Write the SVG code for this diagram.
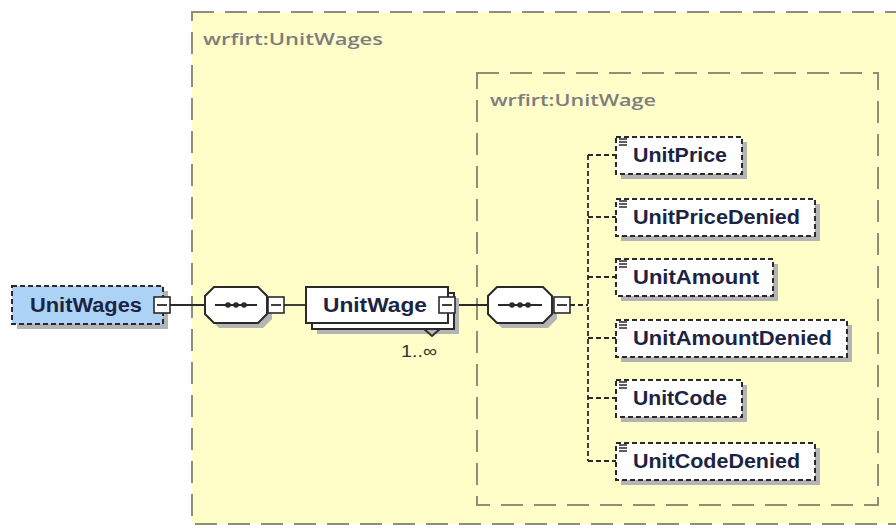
<svg xmlns="http://www.w3.org/2000/svg" width="896" height="528" viewBox="0 0 896 528">
<defs>
<style>
.frame{fill:#fffdc8;stroke:#8f8f78;stroke-width:2;stroke-dasharray:22,11}
.ftxt{font-family:"Open Sans","Liberation Sans",sans-serif;font-weight:600;font-size:17px;fill:#7d7d7d}
.shadow{fill:#b4b4b4}
.el{fill:#ffffff;stroke:#2a2a2a;stroke-width:2;stroke-dasharray:5,3}
.elroot{fill:#acd3f6;stroke:#2a2a2a;stroke-width:2;stroke-dasharray:5,3}
.solid{fill:#ffffff;stroke:#2a2a2a;stroke-width:2}
.lbl{font-family:"Liberation Sans",Arial,sans-serif;font-weight:bold;font-size:20px;fill:#1c2444}
.mb{fill:#ffffff;stroke:#2a2a2a;stroke-width:1.6}
.line{stroke:#2a2a2a;stroke-width:1.8;fill:none}
.dline{stroke:#2a2a2a;stroke-width:1.8;fill:none;stroke-dasharray:5,3}
.ico{stroke:#2a2a2a;stroke-width:1.3}
.card{font-family:"Liberation Sans",Arial,sans-serif;font-size:17px;fill:#333333}
</style>
</defs>
<rect width="896" height="528" fill="#ffffff"/>
<g id="frame-UnitWages">
<rect class="frame" x="192" y="12" width="730" height="512"/>
<text class="ftxt" x="203" y="45" textLength="180" lengthAdjust="spacingAndGlyphs">wrfirt:UnitWages</text>
</g>
<g id="frame-UnitWage">
<rect class="frame" x="477" y="73" width="401" height="432"/>
<text class="ftxt" x="490" y="106" textLength="166" lengthAdjust="spacingAndGlyphs">wrfirt:UnitWage</text>
</g>
<g id="connectors">
<line class="line" x1="170" y1="305" x2="205" y2="305"/>
<line class="line" x1="284" y1="305" x2="306" y2="305"/>
<line class="line" x1="455" y1="305" x2="488" y2="305"/>
<line class="dline" x1="570" y1="305" x2="588" y2="305"/>
<line class="dline" x1="588" y1="155" x2="588" y2="461"/>
<line class="dline" x1="588" y1="155" x2="616" y2="155"/>
<line class="dline" x1="588" y1="217" x2="616" y2="217"/>
<line class="dline" x1="588" y1="277" x2="616" y2="277"/>
<line class="dline" x1="588" y1="338" x2="616" y2="338"/>
<line class="dline" x1="588" y1="398" x2="616" y2="398"/>
<line class="dline" x1="588" y1="461" x2="616" y2="461"/>
</g>
<g id="UnitWages">
<rect class="shadow" x="17" y="291" width="151" height="38"/>
<rect class="elroot" x="12" y="286" width="151" height="38"/>
<text class="lbl" x="30" y="312" textLength="112" lengthAdjust="spacingAndGlyphs">UnitWages</text>
<rect class="mb" x="154" y="297" width="16" height="16"/>
<line class="line" x1="157" y1="305" x2="167" y2="305"/>
</g>
<g id="seq1">
<polygon class="shadow" points="219,292 263,292 272,301 272,319 263,328 219,328 210,319 210,301"/>
<polygon class="solid" points="214,287 258,287 267,296 267,314 258,323 214,323 205,314 205,296"/>
<line class="line" x1="215" y1="305" x2="257" y2="305"/>
<circle cx="228" cy="305" r="2.8" fill="#2a2a2a"/>
<circle cx="236" cy="305" r="2.8" fill="#2a2a2a"/>
<circle cx="244" cy="305" r="2.8" fill="#2a2a2a"/>
<rect class="mb" x="268" y="297" width="16" height="16"/>
<line class="line" x1="271" y1="305" x2="281" y2="305"/>
</g>
<g id="UnitWage">
<rect class="shadow" x="317" y="298" width="142" height="36"/>
<rect class="solid" x="312" y="293" width="142" height="36"/>
<rect class="solid" x="306" y="287" width="142" height="36"/>
<polyline class="line" points="424,329 432,336 440,329" fill="#ffffff"/>
<text class="lbl" x="323" y="312" textLength="104" lengthAdjust="spacingAndGlyphs">UnitWage</text>
<rect class="mb" x="439" y="297" width="16" height="16"/>
<line class="line" x1="442" y1="305" x2="452" y2="305"/>
<text class="card" x="401" y="357" textLength="36" lengthAdjust="spacingAndGlyphs">1..∞</text>
</g>
<g id="seq2">
<polygon class="shadow" points="502,292 548,292 557,301 557,319 548,328 502,328 493,319 493,301"/>
<polygon class="solid" points="497,287 543,287 552,296 552,314 543,323 497,323 488,314 488,296"/>
<line class="line" x1="498" y1="305" x2="542" y2="305"/>
<circle cx="512" cy="305" r="2.8" fill="#2a2a2a"/>
<circle cx="520" cy="305" r="2.8" fill="#2a2a2a"/>
<circle cx="528" cy="305" r="2.8" fill="#2a2a2a"/>
<rect class="mb" x="554" y="297" width="16" height="16"/>
<line class="line" x1="557" y1="305" x2="567" y2="305"/>
</g>
<g id="UnitPrice">
<rect class="shadow" x="621" y="142" width="126" height="37"/>
<rect class="el" x="616" y="137" width="126" height="37"/>
<path class="ico" d="M619 139h8M619 142h8M619 145h8"/>
<text class="lbl" x="633" y="162" textLength="94" lengthAdjust="spacingAndGlyphs">UnitPrice</text>
</g>
<g id="UnitPriceDenied">
<rect class="shadow" x="621" y="204" width="199" height="37"/>
<rect class="el" x="616" y="199" width="199" height="37"/>
<path class="ico" d="M619 201h8M619 204h8M619 207h8"/>
<text class="lbl" x="633" y="224" textLength="167" lengthAdjust="spacingAndGlyphs">UnitPriceDenied</text>
</g>
<g id="UnitAmount">
<rect class="shadow" x="621" y="264" width="157" height="37"/>
<rect class="el" x="616" y="259" width="157" height="37"/>
<path class="ico" d="M619 261h8M619 264h8M619 267h8"/>
<text class="lbl" x="633" y="284" textLength="126" lengthAdjust="spacingAndGlyphs">UnitAmount</text>
</g>
<g id="UnitAmountDenied">
<rect class="shadow" x="621" y="325" width="231" height="37"/>
<rect class="el" x="616" y="320" width="231" height="37"/>
<path class="ico" d="M619 322h8M619 325h8M619 328h8"/>
<text class="lbl" x="633" y="345" textLength="199" lengthAdjust="spacingAndGlyphs">UnitAmountDenied</text>
</g>
<g id="UnitCode">
<rect class="shadow" x="621" y="385" width="126" height="37"/>
<rect class="el" x="616" y="380" width="126" height="37"/>
<path class="ico" d="M619 382h8M619 385h8M619 388h8"/>
<text class="lbl" x="633" y="405" textLength="94" lengthAdjust="spacingAndGlyphs">UnitCode</text>
</g>
<g id="UnitCodeDenied">
<rect class="shadow" x="621" y="448" width="199" height="37"/>
<rect class="el" x="616" y="443" width="199" height="37"/>
<path class="ico" d="M619 445h8M619 448h8M619 451h8"/>
<text class="lbl" x="633" y="468" textLength="167" lengthAdjust="spacingAndGlyphs">UnitCodeDenied</text>
</g>
</svg>
